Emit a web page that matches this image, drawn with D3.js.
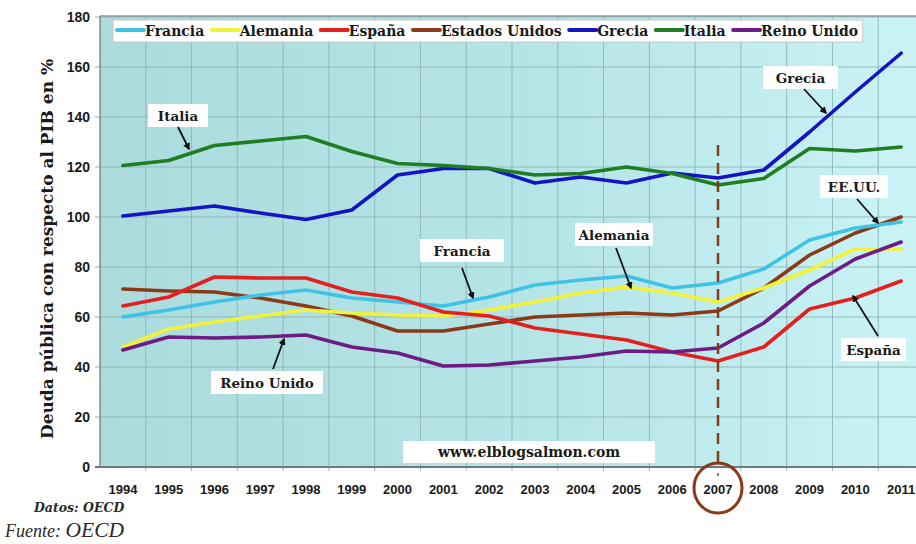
<!DOCTYPE html>
<html><head><meta charset="utf-8">
<script src="https://cdn.jsdelivr.net/npm/d3@7"></script>
<style>
html,body{margin:0;padding:0;background:#fff;}
svg{display:block;}
</style></head>
<body>
<svg id="c" width="916" height="544"></svg>
<script>
const years = [1994,1995,1996,1997,1998,1999,2000,2001,2002,2003,2004,2005,2006,2007,2008,2009,2010,2011];
const seriesNames = ["Francia","Alemania","España","Estados Unidos","Grecia","Italia","Reino Unido"];
const seriesColors = ["#3ec3e6","#f2f23a","#e3201e","#8a3a18","#1414c4","#1f7d22","#6d1c86"];
const francia   = [60,62.8,66,68.8,70.8,67.6,66,64.4,68,72.8,74.8,76.4,71.6,73.6,79.2,90.8,95.6,98];
const alemania  = [48,55.2,58,60.4,62.8,61.6,60.8,60.4,62.8,66,69.6,72,69.6,66,71.6,78.8,87.2,87.2];
const espana    = [64.4,68,76,75.6,75.6,70,67.6,62,60.4,55.6,53.2,50.8,46,42.4,48,63.2,67.6,74.4];
const eeuu      = [71.2,70.4,70,67.6,64.4,60.4,54.4,54.4,57.2,60,60.8,61.6,60.8,62.4,71.6,84.8,93.6,100];
const grecia    = [100.4,102.4,104.4,101.6,99,102.8,116.8,119.4,119.4,113.6,116,113.6,117.6,115.6,118.8,134,150,165.5];
const italia    = [120.6,122.6,128.6,130.4,132.2,126.2,121.4,120.6,119.4,116.8,117.4,120,117.4,112.8,115.4,127.4,126.4,128];
const reinoUnido= [46.8,52,51.6,52,52.8,48,45.6,40.4,40.8,42.4,44,46.4,46,47.6,57.6,72.4,83.2,90];
const seriesValues = [francia, alemania, espana, eeuu, grecia, italia, reinoUnido];
const yTicks = [0,20,40,60,80,100,120,140,160,180];
const crisisYear = 2007;

const svg = d3.select("#c");
const L = 100, T = 16, B = 467, R = 924;
const x = d3.scaleBand().domain(years).range([L, R]).padding(0);
const xc = d => x(d) + x.bandwidth()/2;
const y = d3.scaleLinear().domain([0,180]).range([B, 17]);

const defs = svg.append("defs");
const g1 = defs.append("linearGradient").attr("id","bg").attr("x1","0").attr("x2","1").attr("y1","0").attr("y2","0");
g1.append("stop").attr("offset","0").attr("stop-color","#abdbdc");
g1.append("stop").attr("offset","0.55").attr("stop-color","#b6e5e7");
g1.append("stop").attr("offset","1").attr("stop-color","#caf3f6");
defs.append("marker").attr("id","arr").attr("viewBox","0 0 10 10").attr("refX","8").attr("refY","5")
  .attr("markerWidth","4").attr("markerHeight","4").attr("orient","auto")
  .append("path").attr("d","M0,0 L10,5 L0,10 z").attr("fill","#111");

// plot background
svg.append("rect").attr("x",L).attr("y",T).attr("width",916-L).attr("height",B-T).attr("fill","url(#bg)");

// grid
const grid = svg.append("g").attr("stroke","#94b8bb").attr("stroke-width",1);
years.slice(1).forEach(yr => grid.append("line").attr("x1",x(yr)).attr("x2",x(yr)).attr("y1",T).attr("y2",B+4));
yTicks.slice(1).forEach(v => grid.append("line").attr("x1",L-5).attr("x2",916).attr("y1",y(v)).attr("y2",y(v)));

// borders
svg.append("line").attr("x1",L).attr("x2",916).attr("y1",T).attr("y2",T).attr("stroke","#8d9a9c").attr("stroke-width",1.5);
svg.append("line").attr("x1",L).attr("x2",L).attr("y1",T).attr("y2",B).attr("stroke","#7f8a8c").attr("stroke-width",1.5);
svg.append("line").attr("x1",L-5).attr("x2",916).attr("y1",B).attr("y2",B).attr("stroke","#6f7a7c").attr("stroke-width",2);

// y axis labels
const yAxis = d3.axisLeft(y).tickValues(yTicks).tickSize(0).tickPadding(10);
const ya = svg.append("g").attr("transform",`translate(${L},0)`).call(yAxis);
ya.select(".domain").remove();
ya.selectAll("text").attr("font-family","'Liberation Sans', Arial, sans-serif").attr("font-weight","bold")
  .attr("font-size","14px").attr("fill","#1a1a1a");

// x axis labels
const xAxis = d3.axisBottom(x).tickSize(0).tickPadding(18);
const xa = svg.append("g").attr("transform",`translate(0,${B})`).call(xAxis);
xa.select(".domain").remove();
xa.selectAll("text").attr("font-family","'Liberation Sans', Arial, sans-serif").attr("font-weight","bold")
  .attr("font-size","13px").attr("fill","#1a1a1a");

// y title
svg.append("text").attr("transform","translate(53,249) rotate(-90)").attr("text-anchor","middle")
  .attr("font-family","'DejaVu Serif', serif").attr("font-weight","bold").attr("font-size","17px").attr("fill","#1a1a1a")
  .text("Deuda pública con respecto al PIB en %");

// lines
const line = d3.line().x((d,i) => xc(years[i])).y(d => y(d));
const lines = svg.append("g").attr("fill","none").attr("stroke-width",3.6).attr("stroke-linejoin","round").attr("stroke-linecap","round");
const order = [3,1,0,2,6,4,5];
order.forEach(i => lines.append("path").attr("d", line(seriesValues[i])).attr("stroke", seriesColors[i]));

// dashed crisis line
svg.append("line").attr("x1",xc(crisisYear)).attr("x2",xc(crisisYear)).attr("y1",145).attr("y2",462)
  .attr("stroke","#8a3a18").attr("stroke-width",2.5).attr("stroke-dasharray","11,7");
svg.append("line").attr("x1",xc(crisisYear)).attr("x2",xc(crisisYear)).attr("y1",473).attr("y2",476)
  .attr("stroke","#555").attr("stroke-width",1.5);
svg.append("ellipse").attr("cx",xc(crisisYear)).attr("cy",488).attr("rx",24).attr("ry",25)
  .attr("fill","none").attr("stroke","#8a3a18").attr("stroke-width",3);

// legend
const leg = svg.append("g");
const legBox = leg.append("rect").attr("x",113).attr("y",20).attr("height",22).attr("fill","#fff")
  .attr("stroke","#c8c8c8").attr("stroke-width",1);
let lx = 117;
seriesNames.forEach((n,i) => {
  leg.append("line").attr("x1",lx).attr("x2",lx+27).attr("y1",30).attr("y2",30)
    .attr("stroke",seriesColors[i]).attr("stroke-width",4).attr("stroke-linecap","round");
  const t = leg.append("text").attr("x",lx+28).attr("y",35.5).attr("font-family","'DejaVu Serif', serif")
    .attr("font-weight","bold").attr("font-size","14px").attr("fill","#1a1a1a").text(n);
  lx += 28 + t.node().getComputedTextLength() + 7.5;
});
legBox.attr("width", lx - 113 - 3);

// annotations
const anns = [
  {t:"Italia", x:148, y:104, w:60, ax1:178, ay1:127, ax2:189, ay2:149},
  {t:"Grecia", x:763, y:66, w:75, ax1:804, ay1:89, ax2:826, ay2:113},
  {t:"EE.UU.", x:820, y:175, w:68, ax1:857, ay1:199, ax2:878, ay2:223},
  {t:"Alemania", x:575, y:223, w:78, ax1:616, ay1:248, ax2:631, ay2:288},
  {t:"Francia", x:420, y:239, w:84, ax1:462, ay1:268, ax2:473, ay2:298},
  {t:"Reino Unido", x:211, y:371, w:112, ax1:273, ay1:369, ax2:284, ay2:339},
  {t:"España", x:841, y:338, w:65, ax1:878, ay1:336, ax2:853, ay2:296}
];
const an = svg.append("g");
anns.forEach(a => {
  an.append("rect").attr("x",a.x).attr("y",a.y).attr("width",a.w).attr("height",23).attr("fill","#fff");
  an.append("text").attr("x",a.x+a.w/2).attr("y",a.y+16.5).attr("text-anchor","middle")
    .attr("font-family","'DejaVu Serif', serif").attr("font-weight","bold").attr("font-size","13.5px").attr("fill","#1a1a1a").text(a.t);
  an.append("line").attr("x1",a.ax1).attr("y1",a.ay1).attr("x2",a.ax2).attr("y2",a.ay2)
    .attr("stroke","#111").attr("stroke-width",1.8).attr("marker-end","url(#arr)");
});

// website box
svg.append("rect").attr("x",403).attr("y",441).attr("width",252).attr("height",22).attr("fill","#fff");
svg.append("text").attr("x",529).attr("y",457).attr("text-anchor","middle").attr("font-family","'DejaVu Serif', serif")
  .attr("font-weight","bold").attr("font-size","14px").attr("fill","#1a1a1a").text("www.elblogsalmon.com");

// sources
svg.append("text").attr("x",34).attr("y",512).attr("font-family","'DejaVu Serif', serif").attr("font-weight","bold")
  .attr("font-style","italic").attr("font-size","12.5px").attr("fill","#2a2a2a").text("Datos: OECD");
const f = svg.append("text").attr("x",5).attr("y",537).attr("font-family","'Liberation Serif', 'Times New Roman', serif")
  .attr("font-style","italic").attr("fill","#2a2a2a");
f.append("tspan").attr("font-size","18px").text("Fuente: ");
f.append("tspan").attr("font-size","21.5px").text("OECD");
</script>
</body></html>
